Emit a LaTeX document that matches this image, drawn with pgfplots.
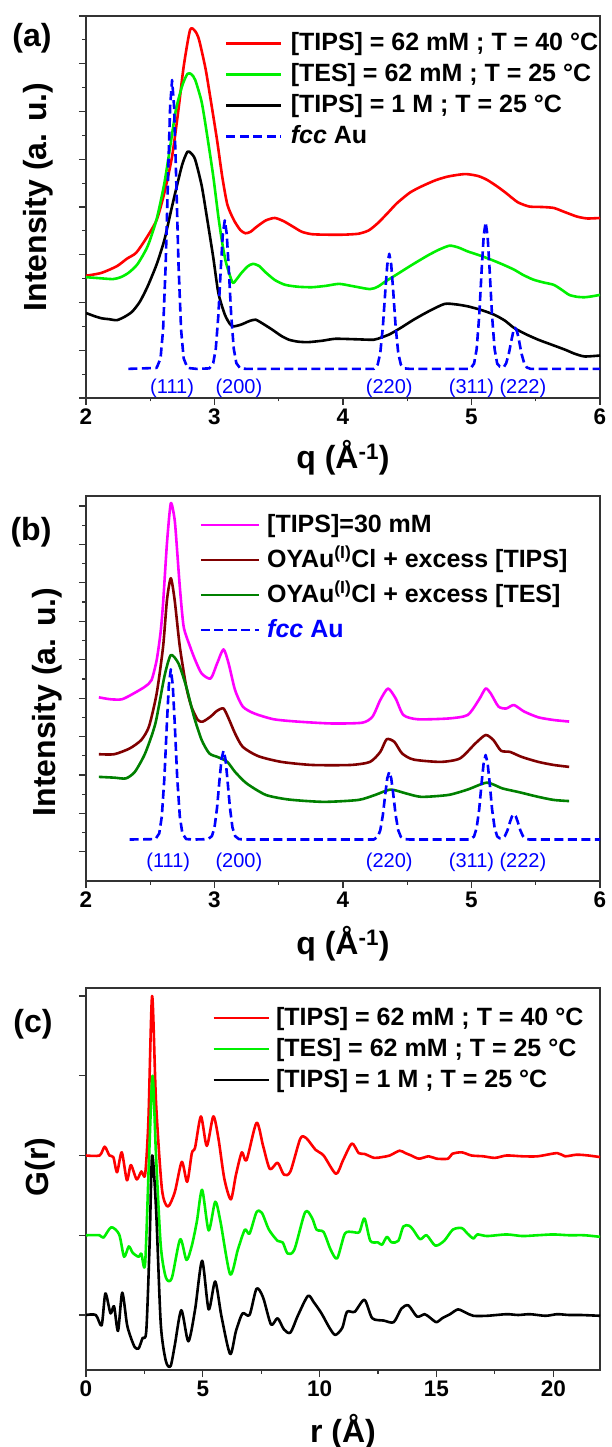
\documentclass[border=0pt]{standalone}
\usepackage{fontspec}
\setmainfont{Liberation Sans}
\usepackage{pgfplots}
\pgfplotsset{compat=1.18}
\definecolor{cred}{RGB}{255,0,0}
\definecolor{cgreen}{RGB}{0,240,0}
\definecolor{cblue}{RGB}{0,0,255}
\definecolor{cmag}{RGB}{255,0,255}
\definecolor{cdred}{RGB}{128,0,0}
\definecolor{cdgreen}{RGB}{0,128,0}
\tikzset{peaklab/.style={font=\fontsize{20}{20}\selectfont, text=cblue}}
\pgfplotsset{
 myaxis/.style={
  scale only axis, width=514pt,
  axis line style={line width=1.2pt, black!80},
  every tick/.style={line width=1.2pt, black!80},
  tick align=outside,
  xtick pos=bottom, ytick pos=left,
  major tick length=7pt, minor tick length=3.5pt,
  minor x tick num=1,
  yticklabels={},
  xticklabel style={font=\fontsize{22.5}{22.5}\selectfont\bfseries},
  /pgf/number format/assume math mode=true,
  xlabel style={font=\fontsize{32}{32}\selectfont\bfseries, anchor=center},
  ylabel style={font=\fontsize{32}{32}\selectfont\bfseries, anchor=center},
  legend cell align=left,
  legend style={draw=none, fill=none, inner sep=0pt, anchor=north west,
     font=\fontsize{25}{25}\selectfont\bfseries,
     nodes={inner sep=0pt, text height=18pt, text depth=4pt}},
  every axis plot/.append style={line width=2.6pt, line join=round},
 },
 fccstyle/.style={cblue, dash pattern=on 9pt off 4.5pt, line width=2.6pt},
}
\begin{document}
\begin{tikzpicture}
\useasboundingbox (0,0) rectangle (611pt,-1447pt);
% ---------------- panel (a)
\begin{axis}[myaxis, at={(86pt,-16pt)}, anchor=north west, height=382pt,
  xmin=2, xmax=6, ymin=0, ymax=8, xtick={2,3,4,5,6}, ytick={0,...,8}, minor y tick num=1,
  xlabel={q (Å\textsuperscript{-1})},
  xlabel style={at={(axis description cs:0.5,-0.157)}},
  ylabel={Intensity (a. u.)},
  ylabel style={at={(axis description cs:-0.0934,0.526)}},
  legend style={at={(axis description cs:0.2704,0.958)}, row sep=9pt},
  legend image code/.code={\draw[#1] (0pt,0pt) -- (55pt,0pt); \path (63pt,0pt);},
]
\addplot[cred, smooth, tension=0.4] coordinates {(2.00,2.56) (2.12,2.62) (2.24,2.76) (2.32,2.92) (2.39,3.04) (2.47,3.35) (2.55,3.73) (2.61,4.30) (2.67,5.06) (2.72,6.05) (2.76,6.94) (2.81,7.71) (2.85,7.68) (2.88,7.50) (2.93,6.90) (2.97,6.25) (3.02,5.40) (3.06,4.64) (3.10,4.05) (3.15,3.73) (3.20,3.52) (3.24,3.45) (3.28,3.48) (3.33,3.59) (3.40,3.72) (3.47,3.77) (3.54,3.70) (3.61,3.59) (3.68,3.48) (3.76,3.43) (3.88,3.42) (4.00,3.42) (4.12,3.44) (4.20,3.51) (4.27,3.66) (4.35,3.88) (4.42,4.08) (4.52,4.30) (4.61,4.43) (4.72,4.56) (4.82,4.64) (4.95,4.69) (5.05,4.65) (5.12,4.57) (5.20,4.43) (5.27,4.29) (5.36,4.10) (5.45,4.01) (5.55,4.00) (5.64,3.98) (5.72,3.90) (5.82,3.80) (5.90,3.76) (6.00,3.77)};
\addlegendentry{[TIPS] = 62 mM ; T = 40 °C}
\addplot[cgreen, smooth, tension=0.4] coordinates {(2.00,2.53) (2.10,2.51) (2.21,2.49) (2.27,2.53) (2.33,2.62) (2.40,2.80) (2.48,3.18) (2.55,3.75) (2.61,4.50) (2.66,5.35) (2.70,6.04) (2.75,6.55) (2.79,6.79) (2.82,6.78) (2.85,6.66) (2.90,6.20) (2.94,5.55) (2.99,4.65) (3.03,3.80) (3.06,3.25) (3.09,2.83) (3.14,2.42) (3.17,2.48) (3.21,2.62) (3.26,2.76) (3.30,2.81) (3.35,2.76) (3.39,2.65) (3.47,2.47) (3.55,2.37) (3.65,2.33) (3.76,2.32) (3.87,2.35) (3.97,2.39) (4.08,2.34) (4.21,2.28) (4.27,2.33) (4.33,2.44) (4.42,2.59) (4.52,2.76) (4.60,2.89) (4.67,3.00) (4.75,3.11) (4.83,3.19) (4.90,3.15) (4.97,3.07) (5.06,2.99) (5.15,2.90) (5.24,2.80) (5.33,2.69) (5.40,2.58) (5.48,2.48) (5.56,2.42) (5.64,2.37) (5.70,2.27) (5.76,2.16) (5.82,2.12) (5.88,2.11) (5.94,2.13) (6.00,2.16)};
\addlegendentry{[TES] = 62 mM ; T = 25 °C}
\addplot[black, smooth, tension=0.4] coordinates {(2.00,1.78) (2.06,1.72) (2.12,1.67) (2.18,1.65) (2.24,1.63) (2.30,1.70) (2.36,1.81) (2.42,2.02) (2.48,2.34) (2.55,2.80) (2.61,3.31) (2.66,3.90) (2.70,4.36) (2.75,4.90) (2.79,5.16) (2.82,5.12) (2.85,4.99) (2.90,4.45) (2.94,3.80) (2.99,2.95) (3.03,2.20) (3.08,1.75) (3.12,1.55) (3.15,1.50) (3.21,1.54) (3.27,1.61) (3.32,1.64) (3.38,1.55) (3.45,1.43) (3.52,1.30) (3.58,1.22) (3.65,1.18) (3.73,1.17) (3.84,1.20) (3.94,1.24) (4.10,1.23) (4.24,1.22) (4.30,1.27) (4.36,1.33) (4.45,1.47) (4.55,1.64) (4.67,1.82) (4.79,1.97) (4.88,1.96) (4.97,1.92) (5.08,1.84) (5.18,1.74) (5.26,1.62) (5.33,1.47) (5.42,1.34) (5.52,1.22) (5.62,1.12) (5.73,1.01) (5.80,0.93) (5.88,0.87) (6.00,0.89)};
\addlegendentry{[TIPS] = 1 M ; T = 25 °C}
\addplot[fccstyle] coordinates {(2.33,0.61) (2.55,0.63) (2.58,0.83) (2.60,1.43) (2.62,2.79) (2.64,4.78) (2.655,6.12) (2.67,6.66) (2.685,6.12) (2.70,4.78) (2.72,2.79) (2.74,1.43) (2.76,0.83) (2.79,0.63) (2.86,0.61) (2.96,0.62) (2.99,0.73) (3.01,1.03) (3.03,1.73) (3.05,2.76) (3.065,3.44) (3.08,3.72) (3.095,3.44) (3.11,2.76) (3.13,1.73) (3.15,1.03) (3.17,0.73) (3.20,0.62) (3.25,0.61) (4.24,0.61) (4.27,0.70) (4.29,0.94) (4.31,1.48) (4.33,2.27) (4.345,2.80) (4.36,3.02) (4.375,2.80) (4.39,2.27) (4.41,1.48) (4.43,0.94) (4.45,0.70) (4.48,0.62) (4.52,0.61) (4.99,0.61) (5.02,0.72) (5.04,1.02) (5.06,1.72) (5.08,2.73) (5.095,3.40) (5.11,3.68) (5.125,3.40) (5.14,2.73) (5.16,1.72) (5.18,1.02) (5.20,0.72) (5.22,0.66) (5.25,0.64) (5.27,0.73) (5.29,0.92) (5.31,1.20) (5.325,1.39) (5.34,1.47) (5.355,1.39) (5.37,1.20) (5.39,0.92) (5.41,0.73) (5.43,0.64) (5.46,0.61) (6.00,0.61)};
\addlegendentry{\textit{fcc} Au}
\node[peaklab] at (axis cs:2.67,0.21) {(111)};
\node[peaklab] at (axis cs:3.19,0.21) {(200)};
\node[peaklab] at (axis cs:4.36,0.21) {(220)};
\node[peaklab] at (axis cs:5.00,0.21) {(311)};
\node[peaklab] at (axis cs:5.40,0.21) {(222)};
\end{axis}
% ---------------- panel (b)
\begin{axis}[myaxis, at={(86pt,-496pt)}, anchor=north west, height=385pt,
  xmin=2, xmax=6, ymin=-0.76, ymax=9.26, xtick={2,3,4,5,6}, ytick={0,...,9}, minor y tick num=1,
  xlabel={q (Å\textsuperscript{-1})},
  xlabel style={at={(axis description cs:0.5,-0.164)}},
  ylabel={Intensity (a. u.)},
  ylabel style={at={(axis description cs:-0.076,0.465)}},
  legend style={at={(axis description cs:0.2210,0.953)}, row sep=13pt},
  legend image code/.code={\draw[#1, line width=2.2pt] (0pt,0pt) -- (58pt,0pt); \path (65pt,0pt);},
]
\addplot[cmag, smooth, tension=0.4] coordinates {(2.10,4.02) (2.19,3.97) (2.28,3.97) (2.37,4.12) (2.46,4.30) (2.51,4.47) (2.55,4.99) (2.58,5.70) (2.60,6.47) (2.63,8.03) (2.66,9.07) (2.69,8.64) (2.71,7.80) (2.73,6.90) (2.76,5.86) (2.81,5.34) (2.85,4.99) (2.90,4.64) (2.97,4.51) (3.02,4.90) (3.07,5.27) (3.11,4.90) (3.16,4.21) (3.22,3.78) (3.31,3.60) (3.46,3.45) (3.64,3.39) (3.91,3.34) (4.15,3.36) (4.23,3.52) (4.29,3.95) (4.35,4.25) (4.41,3.99) (4.47,3.56) (4.58,3.45) (4.82,3.47) (4.97,3.56) (5.06,3.97) (5.11,4.25) (5.15,4.12) (5.21,3.78) (5.27,3.73) (5.33,3.82) (5.41,3.65) (5.52,3.50) (5.64,3.43) (5.76,3.39)};
\addlegendentry{[TIPS]=30 mM}
\addplot[cdred, smooth, tension=0.4] coordinates {(2.10,2.54) (2.22,2.54) (2.34,2.69) (2.43,2.91) (2.49,3.26) (2.55,4.12) (2.60,5.34) (2.63,6.55) (2.66,7.12) (2.69,6.55) (2.73,5.34) (2.78,4.30) (2.82,3.78) (2.87,3.43) (2.91,3.39) (2.97,3.52) (3.02,3.67) (3.07,3.73) (3.11,3.47) (3.16,3.08) (3.22,2.73) (3.34,2.49) (3.52,2.34) (3.76,2.26) (4.06,2.26) (4.21,2.34) (4.29,2.60) (4.34,2.93) (4.40,2.86) (4.46,2.56) (4.55,2.40) (4.76,2.34) (4.91,2.43) (5.03,2.82) (5.11,3.04) (5.17,2.91) (5.23,2.63) (5.30,2.60) (5.39,2.47) (5.52,2.34) (5.64,2.26) (5.76,2.21)};
\addlegendentry{OYAu\textsuperscript{(I)}Cl + excess [TIPS]}
\addplot[cdgreen, smooth, tension=0.4] coordinates {(2.10,1.95) (2.22,1.93) (2.31,1.91) (2.38,2.08) (2.46,2.56) (2.54,3.34) (2.61,4.56) (2.66,5.12) (2.72,4.90) (2.78,4.30) (2.84,3.52) (2.90,2.91) (2.96,2.56) (3.03,2.46) (3.10,2.34) (3.16,2.08) (3.25,1.78) (3.40,1.48) (3.58,1.36) (3.85,1.30) (4.12,1.35) (4.25,1.48) (4.37,1.62) (4.49,1.52) (4.61,1.43) (4.82,1.48) (4.97,1.62) (5.12,1.80) (5.24,1.65) (5.36,1.56) (5.52,1.43) (5.64,1.35) (5.76,1.32)};
\addlegendentry{OYAu\textsuperscript{(I)}Cl + excess [TES]}
\addplot[fccstyle] coordinates {(2.34,0.32) (2.54,0.33) (2.57,0.48) (2.59,0.92) (2.61,1.92) (2.63,3.38) (2.645,4.35) (2.66,4.75) (2.675,4.35) (2.69,3.38) (2.71,1.92) (2.73,0.92) (2.75,0.48) (2.78,0.33) (2.85,0.32) (2.95,0.33) (2.98,0.41) (3.00,0.63) (3.02,1.15) (3.04,1.91) (3.055,2.42) (3.07,2.63) (3.085,2.42) (3.10,1.91) (3.12,1.15) (3.14,0.63) (3.16,0.41) (3.19,0.33) (3.25,0.32) (4.24,0.32) (4.27,0.39) (4.29,0.56) (4.31,0.95) (4.33,1.53) (4.345,1.92) (4.36,2.08) (4.375,1.92) (4.39,1.53) (4.41,0.95) (4.43,0.56) (4.45,0.39) (4.48,0.33) (4.52,0.32) (4.99,0.32) (5.02,0.40) (5.04,0.62) (5.06,1.11) (5.08,1.84) (5.095,2.32) (5.11,2.52) (5.125,2.32) (5.14,1.84) (5.16,1.11) (5.18,0.62) (5.20,0.40) (5.22,0.35) (5.24,0.35) (5.26,0.41) (5.28,0.56) (5.30,0.78) (5.315,0.92) (5.33,0.98) (5.345,0.92) (5.36,0.78) (5.38,0.56) (5.40,0.41) (5.42,0.34) (5.45,0.32) (6.00,0.32)};
\addlegendentry{\textcolor{cblue}{\textit{fcc} Au}}
\node[peaklab] at (axis cs:2.64,-0.27) {(111)};
\node[peaklab] at (axis cs:3.19,-0.27) {(200)};
\node[peaklab] at (axis cs:4.36,-0.27) {(220)};
\node[peaklab] at (axis cs:5.00,-0.27) {(311)};
\node[peaklab] at (axis cs:5.40,-0.27) {(222)};
\end{axis}
% ---------------- panel (c)
\begin{axis}[myaxis, at={(86pt,-988pt)}, anchor=north west, height=382pt,
  xmin=0, xmax=22, ymin=-0.69, ymax=4.10, xtick={0,5,10,15,20}, ytick={0,...,4},
  xlabel={r (Å)},
  xlabel style={at={(axis description cs:0.5,-0.162)}},
  ylabel={G(r)},
  ylabel style={at={(axis description cs:-0.089,0.531)}},
  legend style={at={(axis description cs:0.246,0.950)}, row sep=9pt},
  legend image code/.code={\draw[#1, line width=2.2pt] (0pt,0pt) -- (55pt,0pt); \path (61pt,0pt);},
]
\addplot[cred, smooth, tension=0.45] coordinates {(0,2.0) (0.58,2.0) (0.8,2.11) (1.0,2.0) (1.17,1.98) (1.33,1.79) (1.53,2.04) (1.75,1.69) (1.92,1.88) (2.17,1.70) (2.37,1.80) (2.53,1.76) (2.67,2.43) (2.83,4.0) (3.0,2.65) (3.25,1.58) (3.5,1.36) (3.8,1.54) (4.1,1.92) (4.33,1.67) (4.53,2.03) (4.67,2.10) (4.92,2.49) (5.17,2.12) (5.45,2.49) (5.67,2.21) (5.92,1.71) (6.2,1.45) (6.42,1.76) (6.67,2.04) (6.87,1.94) (7.3,2.41) (7.58,2.12) (7.87,1.83) (8.2,1.91) (8.47,1.76) (8.75,1.80) (9.17,2.21) (9.42,2.22) (9.83,2.07) (10.17,2.0) (10.7,1.77) (11.0,1.94) (11.38,2.15) (11.67,2.03) (11.92,2.02) (12.33,1.97) (12.67,1.98) (13.0,2.0) (13.42,2.06) (13.67,2.03) (13.92,2.0) (14.25,1.96) (14.67,1.99) (15.0,1.96) (15.5,1.96) (15.67,2.02) (16.08,2.04) (16.5,2.0) (17.0,1.99) (17.5,1.97) (18.0,2.0) (18.67,1.99) (19.33,1.99) (20.17,2.03) (20.5,1.99) (21.0,2.01) (21.5,2.0) (22.0,1.98)};
\addlegendentry{[TIPS] = 62 mM ; T = 40 °C}
\addplot[cgreen, smooth, tension=0.45] coordinates {(0,1.0) (0.58,1.0) (0.75,0.97) (1.08,1.10) (1.42,1.01) (1.63,0.73) (1.83,0.86) (2.0,0.78) (2.25,0.73) (2.37,0.77) (2.53,0.64) (2.7,1.98) (2.85,3.0) (3.0,1.98) (3.2,0.87) (3.42,0.47) (3.67,0.46) (4.03,0.95) (4.3,0.69) (4.53,0.87) (4.75,1.18) (4.97,1.57) (5.25,1.06) (5.53,1.42) (5.75,1.18) (6.17,0.51) (6.5,0.82) (6.8,1.07) (7.0,1.02) (7.3,1.29) (7.53,1.28) (7.83,1.07) (8.2,0.93) (8.42,0.91) (8.63,0.77) (8.92,0.82) (9.38,1.29) (9.67,1.22) (9.87,1.07) (10.17,1.04) (10.47,0.82) (10.75,0.71) (11.08,1.02) (11.42,1.04) (11.7,1.04) (11.92,1.21) (12.17,0.93) (12.5,0.91) (12.67,0.88) (12.88,0.98) (13.08,0.91) (13.37,0.93) (13.58,1.11) (13.83,1.12) (14.0,1.07) (14.3,0.95) (14.58,1.0) (14.95,0.87) (15.33,0.93) (15.7,1.07) (16.08,1.09) (16.33,1.02) (16.58,0.96) (16.75,1.01) (17.17,0.99) (18.0,1.01) (18.67,0.99) (19.33,1.0) (20.0,1.01) (20.67,1.0) (21.33,1.0) (22.0,0.98)};
\addlegendentry{[TES] = 62 mM ; T = 25 °C}
\addplot[black, smooth, tension=0.45] coordinates {(0,0) (0.42,0) (0.67,-0.13) (0.83,0.27) (1.05,0.02) (1.2,0.11) (1.37,-0.2) (1.55,0.28) (1.75,-0.11) (1.88,-0.25) (2.08,-0.40) (2.25,-0.42) (2.42,-0.29) (2.58,-0.2) (2.72,0.87) (2.83,2.0) (3.0,1.32) (3.2,-0.11) (3.42,-0.58) (3.62,-0.64) (3.8,-0.38) (4.08,0.06) (4.38,-0.33) (4.67,0.07) (4.97,0.68) (5.25,0.07) (5.53,0.42) (5.8,-0.02) (6.17,-0.49) (6.42,-0.2) (6.7,0.02) (7.0,0) (7.3,0.33) (7.58,0.22) (7.92,-0.12) (8.2,-0.04) (8.47,-0.18) (8.75,-0.22) (9.08,0) (9.5,0.24) (9.75,0.16) (10.08,0.02) (10.42,-0.16) (10.67,-0.25) (10.97,-0.16) (11.17,0.04) (11.5,0.04) (11.92,0.19) (12.25,-0.04) (12.75,-0.07) (13.17,-0.09) (13.5,0.08) (13.8,0.12) (14.17,-0.02) (14.5,0.01) (14.75,-0.04) (15.0,-0.09) (15.25,-0.04) (15.58,0.01) (15.92,0.07) (16.25,0.03) (16.58,-0.01) (17.17,-0.01) (18.0,0.01) (18.5,0) (19.0,0.01) (19.67,-0.01) (20.17,0.01) (20.67,0) (21.17,0) (22.0,-0.01)};
\addlegendentry{[TIPS] = 1 M ; T = 25 °C}
\end{axis}
\node[font=\fontsize{32}{32}\selectfont\bfseries] at (32pt,-38pt) {(a)};
\node[font=\fontsize{32}{32}\selectfont\bfseries] at (31pt,-532pt) {(b)};
\node[font=\fontsize{32}{32}\selectfont\bfseries] at (33pt,-1024pt) {(c)};
\end{tikzpicture}
\end{document}
